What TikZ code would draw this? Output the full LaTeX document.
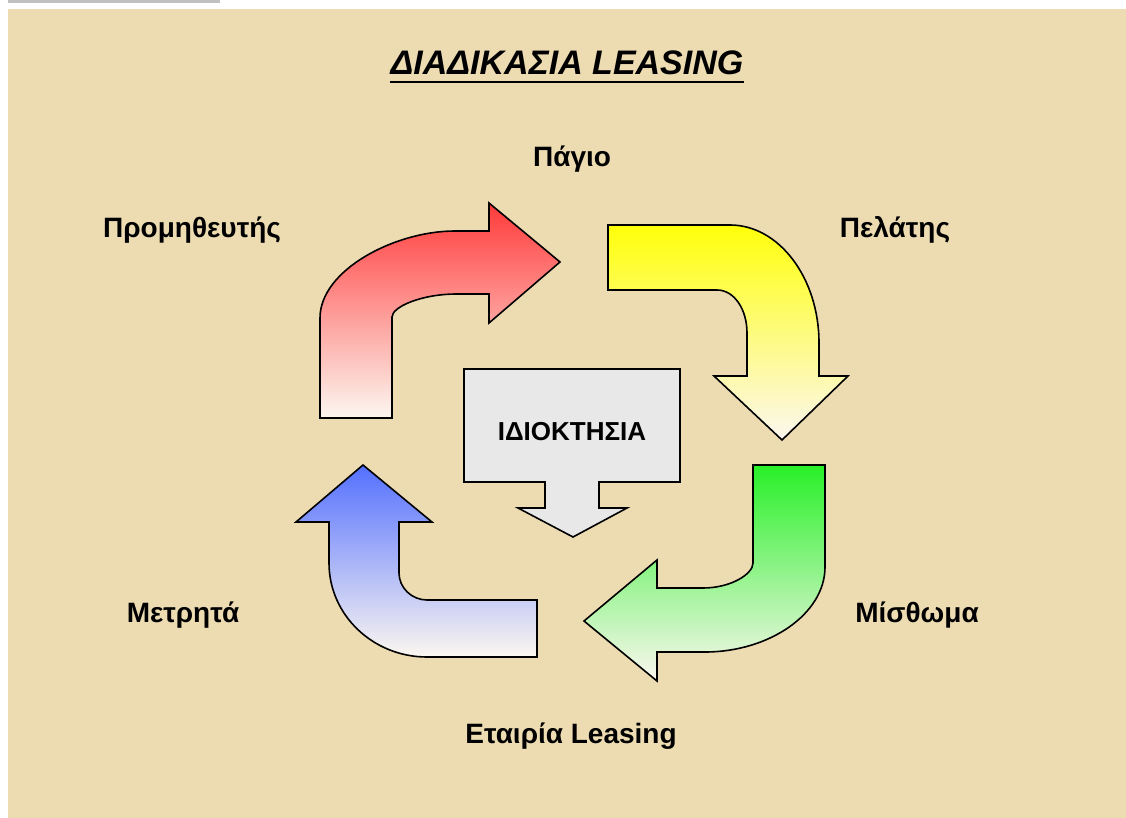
\documentclass[tikz,border=0pt]{standalone}
\usepackage{fontspec}
\setmainfont{Liberation Sans}
\definecolor{parch}{RGB}{237,220,178}
\definecolor{barg}{RGB}{192,192,192}
\definecolor{redtop}{RGB}{255,58,58}
\definecolor{yeltop}{RGB}{255,255,10}
\definecolor{grntop}{RGB}{40,240,40}
\definecolor{blutop}{RGB}{84,112,255}
\definecolor{pale}{RGB}{252,247,240}
\definecolor{boxg}{RGB}{232,232,232}
\begin{document}
\begin{tikzpicture}[x=1pt, y=-1pt,
  txt/.style={font=\bfseries\fontsize{28}{32}\selectfont, anchor=base, inner sep=0pt},
  bent/.style={draw=black, line width=1.6pt, line join=miter, bottom color=pale}]
\useasboundingbox (0,0) rectangle (1126,818);
\fill[white] (0,0) rectangle (1126,818);
\fill[barg] (8,0) rectangle (220,3);
\fill[parch] (8,9) rectangle (1126,818);
\node[anchor=base, inner sep=0pt, font=\bfseries\itshape\fontsize{34}{38}\selectfont] (title) at (567,75) {ΔΙΑΔΙΚΑΣΙΑ LEASING};
\draw[line width=2.6pt] ([yshift=-7pt]title.base west) -- ([yshift=-7pt]title.base east);
\draw[bent, top color=redtop] (320,418) -- (320,318) .. controls (320,270) and (395,231) .. (455,231) -- (489,231) -- (489,203) -- (560,262) -- (489,323) -- (489,294) -- (457,294) .. controls (421,294) and (392,307) .. (392,317) -- (392,418) -- cycle;
\draw[bent, top color=yeltop] (608,225) -- (730,225) .. controls (779,225) and (819,278) .. (819,343) -- (819,376) -- (848,376) -- (782,440) -- (714,376) -- (747,376) -- (747,333) .. controls (747,309) and (734,290) .. (717,290) -- (608,290) -- cycle;
\draw[bent, top color=grntop] (753,465) -- (825,465) -- (825,567) .. controls (825,614) and (769,652) .. (705,652) -- (657,652) -- (657,681) -- (584,621) -- (657,560) -- (657,588) -- (703,588) .. controls (731,588) and (753,574) .. (753,563) -- cycle;
\draw[bent, top color=blutop] (363,465) -- (432,522) -- (399,522) -- (399,573) .. controls (399,588) and (412,600) .. (427,600) -- (537,600) -- (537,657) -- (427,657) .. controls (373,657) and (329,615) .. (329,563) -- (329,522) -- (296,522) -- cycle;
\draw[line width=1.6pt, fill=boxg] (464,369) -- (680,369) -- (680,482) -- (599,482) -- (599,508) -- (627,508) -- (573,537) -- (518,508) -- (545,508) -- (545,482) -- (464,482) -- cycle;
\node[txt, font=\bfseries\fontsize{26}{30}\selectfont] (owner) at (572,440) {ΙΔΙΟΚΤΗΣΙΑ};
\node[txt] (asset) at (572,167) {Πάγιο};
\node[txt] (supplier) at (192,238) {Προμηθευτής};
\node[txt] (client) at (895,238) {Πελάτης};
\node[txt] (cash) at (183,622) {Μετρητά};
\node[txt] (rent) at (917,622) {Μίσθωμα};
\node[txt] (company) at (571,743) {Εταιρία Leasing};
\end{tikzpicture}
\end{document}
